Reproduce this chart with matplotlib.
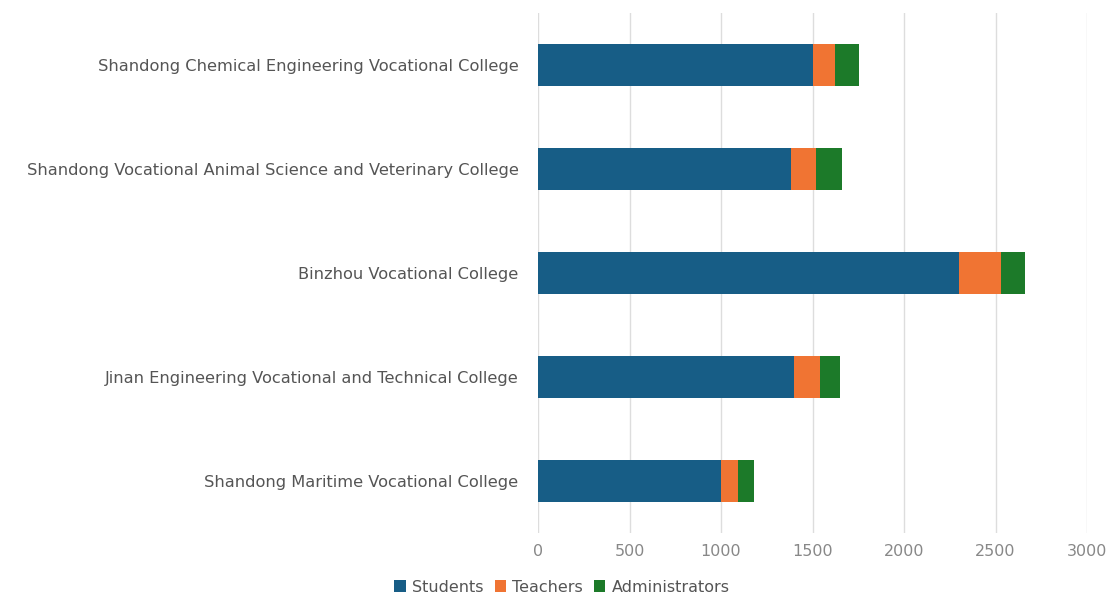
import numpy as np
import matplotlib.pyplot as plt
from matplotlib.patches import Patch

colleges = [
    'Shandong Chemical Engineering Vocational College',
    'Shandong Vocational Animal Science and Veterinary College',
    'Binzhou Vocational College',
    'Jinan Engineering Vocational and Technical College',
    'Shandong Maritime Vocational College',
]
students = [1500, 1380, 2300, 1400, 1000]
teachers = [125, 140, 230, 140, 95]
administrators = [130, 140, 130, 110, 85]

series_names = ['Students', 'Teachers', 'Administrators']
colors = ['#175d86', '#f07433', '#1c7a29']

plt.rcParams['font.family'] = ['DejaVu Sans']

fig = plt.figure(figsize=(11.11, 6.04), dpi=100)
ax = fig.add_axes([538 / 1111, 1 - 533 / 604, (1087 - 538) / 1111, 520 / 604])

y = np.arange(len(colleges))
left = np.zeros(len(colleges))
for name, vals, col in zip(series_names, [students, teachers, administrators], colors):
    ax.barh(y, vals, left=left, height=0.4, color=col, label=name, zorder=3)
    left += np.array(vals)

ax.set_ylim(len(colleges) - 0.5, -0.5)
ax.set_xlim(0, 3000)
ax.set_yticks(y)
ax.set_yticklabels(colleges, fontsize=11.7, color='#555555')
ax.set_xticks(np.arange(0, 3001, 500))
ax.tick_params(axis='x', labelsize=11.5, labelcolor='#888888', length=0, pad=8)
ax.tick_params(axis='y', length=0, pad=14)
ax.grid(axis='x', color='#dddddd', linewidth=1, zorder=0)
ax.grid(axis='y', visible=False)
for s in ax.spines.values():
    s.set_visible(False)

handles = [Patch(facecolor=c, edgecolor='none') for c in colors]
fig.legend(handles, series_names, loc='center', bbox_to_anchor=(562 / 1111, 1 - 587 / 604),
           ncol=3, frameon=False, fontsize=11.5, handlelength=0.7, handleheight=0.7,
           handletextpad=0.4, columnspacing=0.7, labelcolor='#555555')

fig.savefig('out.png', dpi=100)
